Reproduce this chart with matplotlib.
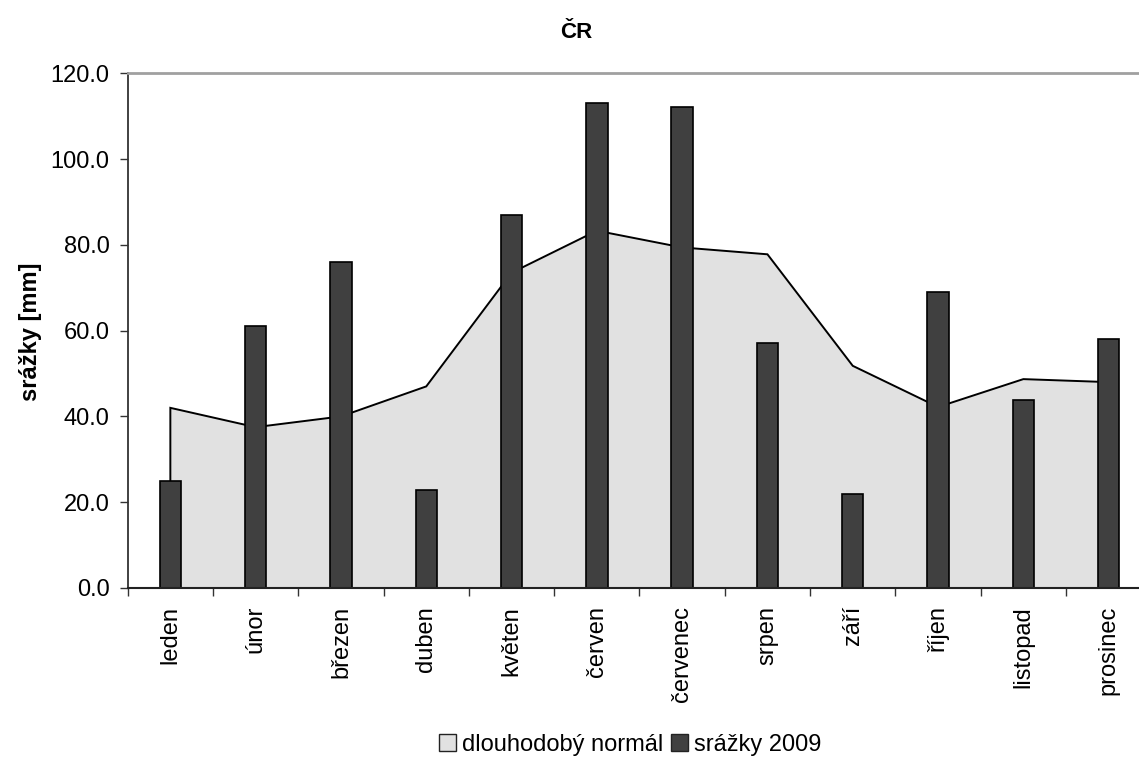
import matplotlib
matplotlib.use("Agg")
import matplotlib.pyplot as plt
from matplotlib.patches import Patch
import numpy as np

months = ["leden", "únor", "březen", "duben", "květen", "červen",
          "červenec", "srpen", "září", "říjen", "listopad", "prosinec"]
normal = [42.0, 37.5, 40.0, 47.0, 73.5, 83.3, 79.4, 77.8, 51.8, 42.2, 48.7, 48.0]
srazky_2009 = [25.0, 61.2, 76.1, 22.8, 87.0, 113.0, 112.2, 57.1, 21.9, 69.0, 43.9, 58.0]
yticks = [0, 20, 40, 60, 80, 100, 120]

plt.rcParams['font.family'] = ['Liberation Sans', 'DejaVu Sans']
FS = 17

fig = plt.figure(figsize=(11.39, 7.60), dpi=100)
W, H = 1139, 760
left, right, top, bottom = 127.7, 1151.3, 73.3, 588.0
ax = fig.add_axes([left / W, 1 - bottom / H, (right - left) / W, (bottom - top) / H])

x = np.arange(len(months))
area_color = "#e1e1e1"
bar_color = "#404040"

# area (long-term normal)
px = np.concatenate([[x[0]], x, [x[-1]]])
py = np.concatenate([[0], normal, [0]])
ax.fill(px, py, facecolor=area_color, edgecolor="black", linewidth=1.4, zorder=1)

# bars
ax.bar(x, srazky_2009, width=0.25, color=bar_color, edgecolor="black",
       linewidth=1.2, zorder=2)

ax.set_xlim(-0.5, len(months) - 0.5)
ax.set_ylim(0, 120)
ax.set_yticks(yticks)
ax.set_yticklabels([f"{v:.1f}" for v in yticks], fontsize=FS)
ax.set_xticks(x)
ax.set_xticklabels(months, rotation=90, fontsize=FS)
ax.set_xticks(np.arange(-0.5, len(months), 1.0), minor=True)
ax.tick_params(axis='x', which='major', length=0, pad=13)
ax.tick_params(axis='x', which='minor', length=6, width=1.0, color="#333333", direction='out')
ax.tick_params(axis='y', which='major', length=6, width=1.0, color="#333333", direction='out', pad=7)

ax.spines["right"].set_visible(False)
ax.spines["top"].set_color("#a0a0a0")
ax.spines["top"].set_linewidth(2.0)
ax.spines["left"].set_color("#333333")
ax.spines["left"].set_linewidth(1.3)
ax.spines["bottom"].set_color("#222222")
ax.spines["bottom"].set_linewidth(1.5)

fig.text(576 / W, 1 - 32 / H, "ČR", ha="center", va="center",
         fontsize=FS - 1, fontweight="bold")
fig.text(30 / W, 1 - 332 / H, "srážky [mm]", ha="center", va="center",
         rotation=90, fontsize=FS, fontweight="bold")

handles = [Patch(facecolor=area_color, edgecolor="#222222", linewidth=1.0),
           Patch(facecolor=bar_color, edgecolor="#222222", linewidth=1.0)]
fig.legend(handles, ["dlouhodobý normál", "srážky 2009"],
           loc="center", bbox_to_anchor=(630 / W, 1 - 745 / H), ncol=2,
           frameon=False, fontsize=FS, handlelength=0.7, handleheight=0.7,
           handletextpad=0.25, columnspacing=0.35)

fig.savefig("out.png", dpi=100)
